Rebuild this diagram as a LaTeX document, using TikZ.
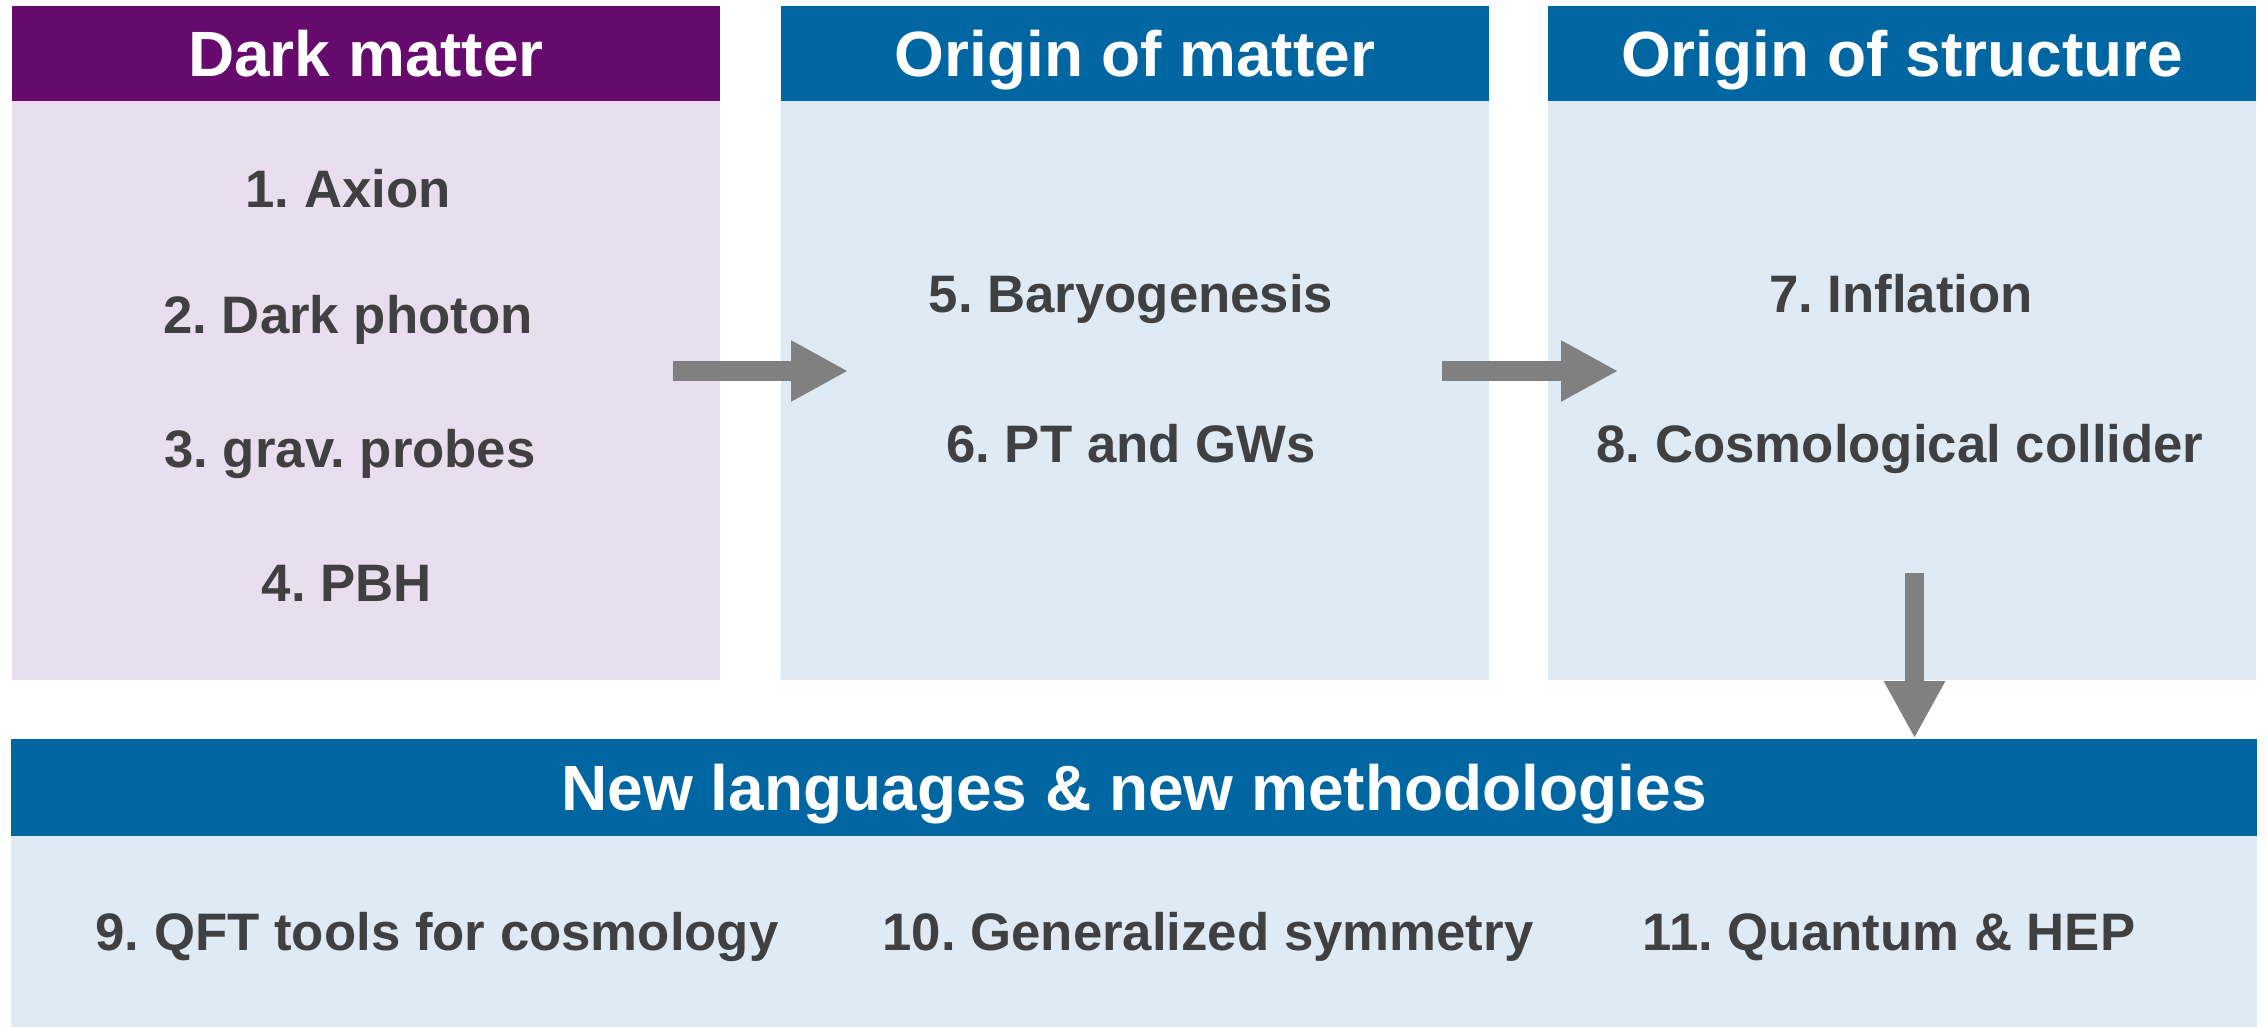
\documentclass[tikz,border=0pt]{standalone}
\usepackage{fontspec}
\setmainfont{Liberation Sans}
\usepackage{xcolor}
\definecolor{darkPurple}{HTML}{660A6E}
\definecolor{darkPink}{HTML}{E9DEED}
\definecolor{originBlue}{HTML}{0066A1}
\definecolor{paleBlue}{HTML}{DFEBF4}
\definecolor{flowGray}{HTML}{808080}
\definecolor{itemGray}{HTML}{404040}
\usepackage{tikz}
\usetikzlibrary{arrows.meta}

\begin{document}
\frenchspacing
\begin{tikzpicture}[x=0.01cm, y=-0.01cm,
    hdr/.style={minimum width=7.08cm, minimum height=0.95cm, inner sep=0pt,
                text=white, text height=0.46cm, text depth=0pt,
                font=\fontsize{18.2}{22}\selectfont\bfseries},
    panel/.style={minimum width=7.08cm, minimum height=5.79cm, inner sep=0pt},
    item/.style={anchor=base, inner sep=0pt, text=itemGray,
                 font=\fontsize{15}{18}\selectfont\bfseries},
    flow/.style={draw=flowGray, line width=0.19cm,
                 -{Triangle[length=0.57cm, width=0.57cm]}}]
  \useasboundingbox (0,0) rectangle (2267,1027);
  % top row of topics
  \node[hdr, fill=darkPurple]   (dmhead) at (366,53.5)  {Dark matter};
  \node[panel, fill=darkPink]   (dmbody) at (366,390.5) {};
  \node[hdr, fill=originBlue]   (omhead) at (1135,53.5) {Origin of matter};
  \node[panel, fill=paleBlue]   (ombody) at (1135,390.5) {};
  \node[hdr, fill=originBlue]   (oshead) at (1902,53.5) {Origin of structure};
  \node[panel, fill=paleBlue]   (osbody) at (1902,390.5) {};
  % wide band underneath
  \node[hdr, fill=originBlue, minimum width=22.44cm, minimum height=0.97cm]
        (nlhead) at (1134,787.5) {New languages \& new methodologies};
  \node[panel, fill=paleBlue, minimum width=22.44cm, minimum height=1.91cm]
        (nlbody) at (1134,931.5) {};

  \node[item] (axion)  at (348,207)  {1. Axion};
  \node[item] (dphot)  at (348,333)  {2. Dark photon};
  \node[item] (grav)   at (350,467)  {3. grav. probes};
  \node[item] (pbh)    at (347,601)  {4. PBH};
  \node[item] (baryo)  at (1131,312) {5. Baryogenesis};
  \node[item] (ptgw)   at (1131,462) {6. PT and GWs};
  \node[item] (infl)   at (1901,312) {7. Inflation};
  \node[item] (cosmo)  at (1900,462) {8. Cosmological collider};
  \node[item] (qft)    at (437,950)  {9. QFT tools for cosmology};
  \node[item] (gsym)   at (1208,950) {10. Generalized symmetry};
  \node[item] (qhep)   at (1889,950) {11. Quantum \& HEP};

  \draw[flow] ([xshift=-4.8mm, yshift=1.95mm]dmbody.east)
           -- ([xshift=6.8mm, yshift=1.95mm]ombody.west);
  \draw[flow] ([xshift=-4.8mm, yshift=1.95mm]ombody.east)
           -- ([xshift=7.1mm, yshift=1.95mm]osbody.west);
  \coordinate (down) at ([xshift=1.25mm, yshift=10.8mm]osbody.south);
  \draw[flow] (down) -- (down |- nlhead.north);
\end{tikzpicture}
\end{document}
